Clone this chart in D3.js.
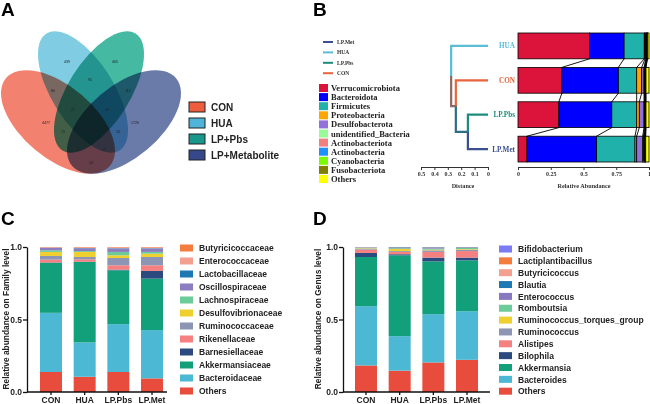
<!DOCTYPE html>
<html>
<head>
<meta charset="utf-8">
<script src="https://cdn.jsdelivr.net/npm/d3@7"></script>
<style>
  body { margin: 0; background: #fff; }
  svg { display: block; font-family: Arial, "Liberation Sans", sans-serif; }
  .serif { font-family: "Times New Roman", "Liberation Serif", serif; font-weight: bold; }
</style>
</head>
<body>
<script>
// ---------- data ----------
// A: venn
const vennSets = ['CON', 'HUA', 'LP+Pbs', 'LP+Metabolite']
const vennRegions = ['CON', 'HUA', 'Pbs', 'Met', 'CON&HUA', 'HUA&Pbs', 'Pbs&Met', 'CON&Pbs', 'HUA&Met',
  'CON&Met', 'CON&HUA&Pbs', 'HUA&Pbs&Met', 'CON&Pbs&Met', 'CON&HUA&Met', 'all']
const vennCounts = ['4477', '439', '465', '1726', '80', '95', '112', '15', '14', '14', '21', '16', '11', '12', '1012']

// B: clustering + phylum
const leafNames = ['HUA', 'CON', 'LP.Pbs', 'LP.Met']
const lineLegend = ['LP.Met', 'HUA', 'LP.Pbs', 'CON']
// [childA, childB, height]; new nodes get index 4, 5, 6
const merges = [[2, 3, 0.15], [1, 4, 0.24], [0, 5, 0.275]]
const distTicks = [0.5, 0.4, 0.3, 0.2, 0.1, 0]
const abundTicks = [0, 0.25, 0.5, 0.75, 1]
const phyla = ['Verrucomicrobiota', 'Bacteroidota', 'Firmicutes', 'Proteobacteria', 'Desulfobacterota',
  'unidentified_Bacteria', 'Actinobacteriota', 'Actinobacteria', 'Cyanobacteria', 'Fusobacteriota', 'Others']
const phylumValues = {
  'HUA':    [0.546, 0.264, 0.154, 0.006, 0.006, 0.003, 0.004, 0.002, 0.002, 0.001, 0.012],
  'CON':    [0.335, 0.431, 0.140, 0.038, 0.018, 0.004, 0.004, 0.003, 0.002, 0.002, 0.023],
  'LP.Pbs': [0.312, 0.404, 0.190, 0.020, 0.036, 0.004, 0.004, 0.003, 0.002, 0.002, 0.023],
  'LP.Met': [0.069, 0.531, 0.293, 0.013, 0.046, 0.006, 0.006, 0.004, 0.004, 0.003, 0.025]
}

// C / D
const samples = ['CON', 'HUA', 'LP.Pbs', 'LP.Met']
const yTicks = [0, 0.5, 1]
const families = ['Others', 'Bacteroidaceae', 'Akkermansiaceae', 'Barnesiellaceae', 'Rikenellaceae',
  'Ruminococcaceae', 'Desulfovibrionaceae', 'Lachnospiraceae', 'Oscillospiraceae', 'Lactobacillaceae',
  'Enterococcaceae', 'Butyricicoccaceae']
const familyValues = {
  'CON':    [0.138, 0.408, 0.344, 0.003, 0.020, 0.025, 0.028, 0.011, 0.016, 0.002, 0.003, 0.002],
  'HUA':    [0.105, 0.237, 0.555, 0.002, 0.016, 0.016, 0.035, 0.006, 0.019, 0.002, 0.005, 0.002],
  'LP.Pbs': [0.138, 0.330, 0.371, 0.005, 0.030, 0.050, 0.019, 0.023, 0.023, 0.003, 0.005, 0.003],
  'LP.Met': [0.094, 0.333, 0.355, 0.053, 0.039, 0.057, 0.023, 0.012, 0.023, 0.003, 0.005, 0.003]
}
const genera = ['Others', 'Bacteroides', 'Akkermansia', 'Bilophila', 'Alistipes', 'Ruminococcus',
  'Ruminococcus_torques_group', 'Romboutsia', 'Enterococcus', 'Blautia', 'Butyricicoccus',
  'Lactiplantibacillus', 'Bifidobacterium']
const genusValues = {
  'CON':    [0.183, 0.409, 0.339, 0.028, 0.023, 0.007, 0.003, 0.003, 0.001, 0.001, 0.001, 0.001, 0.001],
  'HUA':    [0.147, 0.238, 0.558, 0.007, 0.016, 0.006, 0.014, 0.005, 0.003, 0.004, 0.001, 0.0005, 0.0005],
  'LP.Pbs': [0.204, 0.333, 0.364, 0.026, 0.039, 0.011, 0.005, 0.007, 0.004, 0.004, 0.001, 0.001, 0.001],
  'LP.Met': [0.222, 0.335, 0.351, 0.019, 0.045, 0.010, 0.004, 0.007, 0.002, 0.003, 0.001, 0.0005, 0.0005]
}

// ---------- styles ----------
const vennFill = ['#f2816f', '#80cce2', '#45b9a2', '#6b7ba9']
const vennLegendFill = ['#ee5e3e', '#4fb4d8', '#18978a', '#34488a']
const leafColor = { 'HUA': '#5bbcd6', 'CON': '#e8643c', 'LP.Pbs': '#1e8c7c', 'LP.Met': '#3a4f90' }
const phylumColor = ['#dc143c', '#0000ff', '#20b2aa', '#ffa500', '#9370db', '#98fb98', '#f08080',
  '#1e90ff', '#7cfc00', '#808000', '#ffff00']
const familyColor = ['#e84c3c', '#4db8d4', '#12a07a', '#2c4a80', '#f48080', '#8c96b4', '#f0d030',
  '#6ccb98', '#8c7cc0', '#1e78b4', '#f4a090', '#f47c3c']
const genusColor = ['#e84c3c', '#4db8d4', '#12a07a', '#2c4a80', '#f48080', '#8c96b4', '#f0d030',
  '#6ccb98', '#8878c0', '#1e78b4', '#f4a090', '#f47c3c', '#7b7bf4']

const svg = d3.select('body').append('svg').attr('width', 650).attr('height', 404)

// panel letters
;[['A', 1, 16], ['B', 313, 16], ['C', 1, 225], ['D', 313, 225]].forEach(([t, x, y]) => {
  svg.append('text').attr('x', x).attr('y', y).text(t)
    .attr('font-size', 19).attr('font-weight', 'bold')
})

// ---------- A: venn ----------
const ellipses = [
  { cx: 58, cy: 122, rx: 68, ry: 36, rot: 40 },
  { cx: 83, cy: 92, rx: 69, ry: 31, rot: 58 },
  { cx: 99, cy: 92, rx: 69, ry: 31, rot: -58 },
  { cx: 124, cy: 122, rx: 68, ry: 36, rot: -40 }
]
const venn = svg.append('g').style('isolation', 'isolate')
venn.selectAll('ellipse')
  .data(ellipses)
  .enter()
  .append('ellipse')
  .attr('cx', 0).attr('cy', 0)
  .attr('rx', d => d.rx).attr('ry', d => d.ry)
  .attr('transform', d => `translate(${d.cx},${d.cy}) rotate(${d.rot})`)
  .attr('fill', (d, i) => vennFill[i])
  .style('mix-blend-mode', 'multiply')

const regionPos = {
  'CON': [46, 123], 'HUA': [67, 62], 'Pbs': [115, 62], 'Met': [135, 123],
  'CON&HUA': [53, 91], 'HUA&Pbs': [90, 80], 'Pbs&Met': [128, 91], 'CON&Pbs': [63, 132],
  'HUA&Met': [118, 132], 'CON&Met': [91, 163], 'CON&HUA&Pbs': [73, 110], 'HUA&Pbs&Met': [107, 110],
  'CON&Pbs&Met': [78, 150], 'CON&HUA&Met': [104, 150], 'all': [91, 131]
}
venn.selectAll('text.cnt')
  .data(vennRegions)
  .enter()
  .append('text')
  .attr('class', 'cnt')
  .attr('x', d => regionPos[d][0]).attr('y', d => regionPos[d][1])
  .attr('text-anchor', 'middle').attr('dominant-baseline', 'middle')
  .attr('font-size', 3.6).attr('fill', '#222')
  .text((d, i) => vennCounts[i])

const legA = svg.append('g').attr('transform', 'translate(189,102)')
vennSets.forEach((s, i) => {
  const row = legA.append('g').attr('transform', `translate(0,${i * 16})`)
  row.append('rect').attr('width', 16).attr('height', 10)
    .attr('fill', vennLegendFill[i]).attr('stroke', '#222').attr('stroke-width', 1)
  row.append('text').attr('x', 22).attr('y', 9).text(s)
    .attr('font-size', 10).attr('font-weight', 'bold').attr('fill', '#222')
})

// ---------- B: legends ----------
lineLegend.forEach((s, i) => {
  const y = 42 + i * 10.4
  svg.append('line').attr('x1', 323).attr('x2', 333).attr('y1', y).attr('y2', y)
    .attr('stroke', leafColor[s]).attr('stroke-width', 2)
  svg.append('text').attr('class', 'serif').attr('x', 337).attr('y', y + 2).text(s)
    .attr('font-size', 5.5).attr('fill', '#333')
})
phyla.forEach((p, i) => {
  const y = 88 + i * 9.1
  svg.append('rect').attr('x', 319).attr('y', y - 4).attr('width', 9).attr('height', 8)
    .attr('fill', phylumColor[i])
  svg.append('text').attr('class', 'serif').attr('x', 331).attr('y', y + 3).text(p)
    .attr('font-size', 8.5).attr('fill', '#222')
})

// ---------- B: dendrogram ----------
const rowY = d3.scaleBand().domain(leafNames).range([33, 162]).paddingInner(0.25).paddingOuter(0)
const dx = d3.scaleLinear().domain([0.5, 0]).range([421, 488])
const axisY = 167

const nodes = leafNames.map(n => ({ h: 0, y: rowY(n) + rowY.bandwidth() / 2, color: leafColor[n], name: n }))
merges.forEach(([a, b, h]) => {
  const na = nodes[a], nb = nodes[b]
  nodes.push({ h, y: (na.y + nb.y) / 2, color: d3.interpolateRgb(na.color, nb.color)(0.5), kids: [na, nb] })
})
const tree = svg.append('g')
nodes.filter(n => n.kids).forEach(n => {
  n.kids.forEach(c => {
    tree.append('path')
      .attr('d', `M${dx(c.h)},${c.y}H${dx(n.h)}V${n.y}`)
      .attr('fill', 'none').attr('stroke', c.color).attr('stroke-width', 2.2)
  })
})
leafNames.forEach(n => {
  svg.append('text').attr('class', 'serif')
    .attr('x', 515).attr('y', rowY(n) + rowY.bandwidth() / 2 + 2.5)
    .attr('text-anchor', 'end').attr('font-size', 7.2).attr('fill', leafColor[n]).text(n)
})

const distAxis = d3.axisBottom(dx).tickValues(distTicks).tickSize(3).tickFormat(d3.format('~g'))
const gDist = svg.append('g').attr('transform', `translate(0,${axisY})`).call(distAxis)
gDist.selectAll('text').attr('class', 'serif').attr('font-size', 6).attr('fill', '#333').attr('dy', '0.5em')
gDist.selectAll('path,line').attr('stroke', '#333').attr('stroke-width', 1)
svg.append('text').attr('class', 'serif').attr('x', 463).attr('y', 188)
  .attr('text-anchor', 'middle').attr('font-size', 6.2).attr('fill', '#333').text('Distance')

// ---------- B: phylum bars ----------
const ax = d3.scaleLinear().domain([0, 1]).range([518, 649])
const phRows = leafNames.map(n => {
  const o = { name: n }
  phyla.forEach((p, i) => { o[p] = phylumValues[n][i] })
  return o
})
const phStack = d3.stack().keys(phyla)(phRows)
const gBar = svg.append('g')
phStack.forEach((layer, k) => {
  gBar.selectAll(null)
    .data(layer)
    .enter()
    .append('rect')
    .attr('x', d => ax(d[0]))
    .attr('width', d => ax(d[1]) - ax(d[0]))
    .attr('y', d => rowY(d.data.name))
    .attr('height', rowY.bandwidth())
    .attr('fill', phylumColor[k])
    .attr('stroke', '#000').attr('stroke-width', 0.8)
})
// connecting lines between neighbouring bars
for (let i = 0; i < leafNames.length - 1; i++) {
  phStack.slice(0, -1).forEach(layer => {
    gBar.append('line')
      .attr('x1', ax(layer[i][1])).attr('y1', rowY(leafNames[i]) + rowY.bandwidth())
      .attr('x2', ax(layer[i + 1][1])).attr('y2', rowY(leafNames[i + 1]))
      .attr('stroke', '#000').attr('stroke-width', 0.9)
  })
}
const abAxis = d3.axisBottom(ax).tickValues(abundTicks).tickSize(3).tickFormat(d3.format('~g'))
const gAb = svg.append('g').attr('transform', `translate(0,${axisY})`).call(abAxis)
gAb.selectAll('text').attr('class', 'serif').attr('font-size', 6).attr('fill', '#333').attr('dy', '0.5em')
gAb.selectAll('path,line').attr('stroke', '#333').attr('stroke-width', 1)
svg.append('text').attr('class', 'serif').attr('x', 584).attr('y', 188)
  .attr('text-anchor', 'middle').attr('font-size', 6.2).attr('fill', '#333').text('Relative Abundance')

// ---------- C / D: stacked bars ----------
function stackedPanel(opts) {
  const { keys, values, colors, axisX, barStart, lineEnd, legendX, legendY, legendStep, title, titleX } = opts
  const y = d3.scaleLinear().domain([0, 1]).range([392, 247])
  const step = 33.67, bw = 22
  const x = d3.scaleBand().domain(samples)
    .range([barStart, barStart + step * 4 - (step - bw)])
    .paddingInner(0.347).paddingOuter(0)
  const rows = samples.map(s => {
    const o = { name: s }
    keys.forEach((k, i) => { o[k] = values[s][i] })
    return o
  })
  const st = d3.stack().keys(keys)(rows)
  const g = svg.append('g')
  st.forEach((layer, k) => {
    g.selectAll(null)
      .data(layer)
      .enter()
      .append('rect')
      .attr('x', d => x(d.data.name))
      .attr('width', x.bandwidth())
      .attr('y', d => y(d[1]))
      .attr('height', d => Math.max(0, y(d[0]) - y(d[1])))
      .attr('fill', colors[k])
  })
  // y axis
  const yAx = d3.axisLeft(y).tickValues(yTicks).tickSize(4).tickSizeOuter(0).tickFormat(d3.format('.1f'))
  const gy = g.append('g').attr('transform', `translate(${axisX},0)`).call(yAx)
  gy.selectAll('text').attr('font-size', 8.5).attr('font-weight', 'bold').attr('fill', '#222').attr('x', -5)
  gy.selectAll('path,line').attr('stroke', '#111').attr('stroke-width', 1.3)
  // x axis
  const xAx = d3.axisBottom(x).tickSize(3).tickSizeOuter(0)
  const gx = g.append('g').attr('transform', 'translate(0,392)').call(xAx)
  gx.select('.domain').remove()
  gx.selectAll('line').attr('stroke', '#111').attr('stroke-width', 1.3)
  gx.selectAll('text').attr('font-size', 8.5).attr('font-weight', 'bold').attr('fill', '#222')
    .attr('y', 11).attr('dy', 0)
  g.append('line').attr('x1', axisX).attr('x2', lineEnd).attr('y1', 392).attr('y2', 392)
    .attr('stroke', '#111').attr('stroke-width', 1.3)
  // title
  g.append('text').attr('transform', `translate(${titleX},319) rotate(-90)`)
    .attr('text-anchor', 'middle').attr('font-size', 8.4).attr('font-weight', 'bold').attr('fill', '#222')
    .text(title)
  // legend (top = last key)
  const leg = keys.slice().reverse()
  leg.forEach((k, i) => {
    const yy = legendY + i * legendStep
    g.append('rect').attr('x', legendX).attr('y', yy - 3.5).attr('width', 13).attr('height', 7)
      .attr('fill', colors[keys.indexOf(k)])
    g.append('text').attr('x', legendX + 19).attr('y', yy + 3.2).text(k)
      .attr('font-size', 8.5).attr('font-weight', 'bold').attr('fill', '#222')
  })
}

stackedPanel({
  keys: families, values: familyValues, colors: familyColor,
  axisX: 27, barStart: 40, lineEnd: 167,
  legendX: 180, legendY: 248, legendStep: 13.0,
  title: 'Relative abundance on Family level', titleX: 9
})
stackedPanel({
  keys: genera, values: genusValues, colors: genusColor,
  axisX: 343, barStart: 355, lineEnd: 490,
  legendX: 499, legendY: 249, legendStep: 11.85,
  title: 'Relative abundance on Genus level', titleX: 321
})
</script>
</body>
</html>
